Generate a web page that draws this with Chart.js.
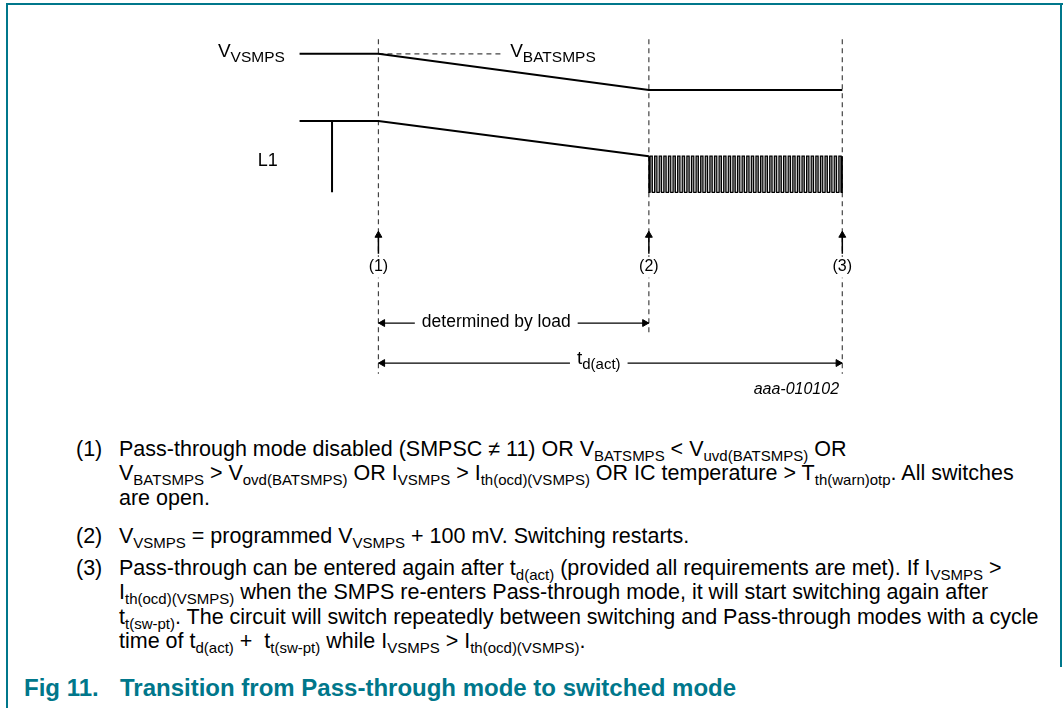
<!DOCTYPE html>
<html>
<head>
<meta charset="utf-8">
<script src="https://cdn.jsdelivr.net/npm/chart.js@4.4.0/dist/chart.umd.min.js"></script>
<style>
  body { margin: 0; background: #fff; font-family: "Liberation Sans", Arial, sans-serif; color: #000; }
  .edge { position: absolute; background: #00778b; }
  #chartBox { position: absolute; left: 0; top: 0; width: 1063px; height: 410px; }
  .note { position: absolute; left: 76px; font-size: 21.5px; line-height: 24.3px; white-space: nowrap; }
  .note .num { position: absolute; left: 0; top: 0; }
  .note .txt { position: absolute; left: 43px; top: 0; }
  sub { font-size: 15px; vertical-align: -5px; line-height: 0; }
  #caption { position: absolute; left: 24px; top: 674px; font-size: 24px; font-weight: bold; color: #00778b; white-space: nowrap; }
  #caption span { position: absolute; left: 96px; top: 0; }
</style>
</head>
<body>
<div class="edge" style="left:6px;top:3px;width:1057px;height:2px"></div>
<div class="edge" style="left:6px;top:3px;width:2px;height:705px"></div>
<div class="edge" style="left:1060px;top:3px;width:2px;height:664px"></div>

<div id="chartBox"><canvas id="timing" width="1063" height="410"></canvas></div>

<div class="note" style="top:437px"><div class="num">(1)</div><div class="txt">Pass-through mode disabled (SMPSC &ne; 11) OR V<sub>BATSMPS</sub> &lt; V<sub>uvd(BATSMPS)</sub> OR<br>V<sub>BATSMPS</sub> &gt; V<sub>ovd(BATSMPS)</sub> OR I<sub>VSMPS</sub> &gt; I<sub>th(ocd)(VSMPS)</sub> OR IC temperature &gt; T<sub>th(warn)otp</sub>. All switches<br>are open.</div></div>
<div class="note" style="top:524px"><div class="num">(2)</div><div class="txt">V<sub>VSMPS</sub> = programmed V<sub>VSMPS</sub> + 100 mV. Switching restarts.</div></div>
<div class="note" style="top:556px"><div class="num">(3)</div><div class="txt">Pass-through can be entered again after t<sub>d(act)</sub> (provided all requirements are met). If I<sub>VSMPS</sub> &gt;<br>I<sub>th(ocd)(VSMPS)</sub> when the SMPS re-enters Pass-through mode, it will start switching again after<br>t<sub>t(sw-pt)</sub>. The circuit will switch repeatedly between switching and Pass-through modes with a cycle<br>time of t<sub>d(act)</sub> +&nbsp; t<sub>t(sw-pt)</sub> while I<sub>VSMPS</sub> &gt; I<sub>th(ocd)(VSMPS)</sub>.</div></div>

<div id="caption">Fig 11.<span>Transition from Pass-through mode to switched mode</span></div>

<script>
// time axis: event (1) at 0, event (3) at 100
const eventTimes = [0, 58.3, 100];
const eventNames = ['(1)', '(2)', '(3)'];
const eventLineEnd = [3.2, 7.2, 3.2];

// V_VSMPS trace
const vvsmpsTimes = [-17, 0, 58.3, 100];
const vvsmpsLevels = [36, 36, 32.3, 32.3];
// V_BATSMPS reference (dashed)
const vbatTimes = [0, 27];
const vbatLevels = [36, 36];

// L1 trace
const l1Times = [-17, 0, 58.3];
const l1Levels = [29.1, 29.1, 25.5];
const l1DropTime = -10;
const l1Low = 21.8;

// switching burst after (2)
const switchStart = 58.3;
const switchEnd = 100;
const switchHigh = 25.5;
const switchLow = 21.8;
const switchPulses = 42;

const arrowTail = 15.5;
const arrowTip = 17.8;
const loadArrowLevel = 8.4;
const actArrowLevel = 4.3;
const dashTop = 37.5;

const xy = (ts, vs) => ts.map((t, i) => ({ x: t, y: vs[i] }));

const ink = '#000';
const dashInk = '#444';
const base = { showLine: true, pointRadius: 0, borderColor: ink, borderWidth: 2, fill: false, order: 1 };

const datasets = [];

// event guide lines
eventTimes.forEach((t, i) => {
  datasets.push(Object.assign({}, base, {
    data: [{ x: t, y: dashTop }, { x: t, y: eventLineEnd[i] }],
    borderColor: dashInk, borderWidth: 1.2, borderDash: [5, 4], order: 5
  }));
});

datasets.push(Object.assign({}, base, { data: xy(vvsmpsTimes, vvsmpsLevels) }));
datasets.push(Object.assign({}, base, { data: xy(vbatTimes, vbatLevels), borderColor: dashInk, borderWidth: 1.2, borderDash: [5, 4] }));
datasets.push(Object.assign({}, base, { data: xy(l1Times, l1Levels) }));
datasets.push(Object.assign({}, base, { data: [{ x: l1DropTime, y: l1Levels[0] }, { x: l1DropTime, y: l1Low }] }));

// square wave burst
const sw = [{ x: switchStart, y: switchHigh }, { x: switchStart, y: switchLow }];
const period = (switchEnd - switchStart) / switchPulses;
for (let k = 0; k < switchPulses; k++) {
  const a = switchStart + k * period + period * 0.25;
  const b = a + period * 0.5;
  sw.push({ x: a, y: switchLow }, { x: a, y: switchHigh }, { x: b, y: switchHigh }, { x: b, y: switchLow });
}
sw.push({ x: switchEnd, y: switchLow }, { x: switchEnd, y: switchHigh });
datasets.push(Object.assign({}, base, {
  data: sw, borderWidth: 1.2, fill: { value: switchLow }, backgroundColor: '#9a9a9a'
}));

// up arrows at events
const headR = 4;
eventTimes.forEach(t => {
  datasets.push(Object.assign({}, base, {
    data: [{ x: t, y: arrowTail }, { x: t, y: arrowTip - 0.4 }],
    borderWidth: 1.5, pointRadius: [0, headR], pointStyle: 'triangle',
    pointBackgroundColor: ink, pointBorderColor: ink, pointBorderWidth: 1
  }));
});

// horizontal double arrows
function hArrow(t0, t1, lvl) {
  const off = 0.9;
  return Object.assign({}, base, {
    data: [{ x: t0, y: lvl }, { x: t0 + off, y: lvl }, { x: t1 - off, y: lvl }, { x: t1, y: lvl }],
    borderWidth: 1.2, pointRadius: [0, headR, headR, 0], pointStyle: 'triangle',
    pointRotation: [0, 270, 90, 0],
    pointBackgroundColor: ink, pointBorderColor: ink, pointBorderWidth: 1
  });
}
datasets.push(hArrow(eventTimes[0], eventTimes[1], loadArrowLevel));
datasets.push(hArrow(eventTimes[0], eventTimes[2], actArrowLevel));

// labels with subscripts, placed in data coords
const labels = [
  { parts: [['V'], ['VSMPS', 1]], t: -34.6, v: 36.2, align: 'left', size: 19, sub: 15.5 },
  { parts: [['V'], ['BATSMPS', 1]], t: 28.4, v: 36.2, align: 'left', size: 19, sub: 15.5, bg: 7 },
  { parts: [['L1']], t: -26, v: 25.0, align: 'left', size: 18 },
  { parts: [['determined by load']], t: 25.4, v: loadArrowLevel + 0.1, align: 'center', size: 17.5, bg: 7 },
  { parts: [['t'], ['d(act)', 1]], t: 47.5, v: actArrowLevel + 0.4, align: 'center', size: 19, sub: 15, bg: 7 },
  { parts: [['aaa-010102']], t: 99.3, v: 1.6, align: 'right', size: 16, italic: true }
];
eventTimes.forEach((t, i) => labels.push({ parts: [[eventNames[i]]], t: t, v: 14.2, align: 'center', size: 16, bg: 1 }));

const textPlugin = {
  id: 'diagramText',
  afterDatasetsDraw(chart) {
    const ctx = chart.ctx;
    const xs = chart.scales.x, ys = chart.scales.y;
    ctx.save();
    ctx.textBaseline = 'middle';
    labels.forEach(l => {
      const fam = '"Liberation Sans", Arial, sans-serif';
      const style = l.italic ? 'italic ' : '';
      const subSize = l.sub || Math.round(l.size * 0.78);
      const fontOf = p => style + (p[1] ? subSize : l.size) + 'px ' + fam;
      let w = 0;
      const widths = l.parts.map(p => { ctx.font = fontOf(p); const m = ctx.measureText(p[0]).width; w += m; return m; });
      let x = xs.getPixelForValue(l.t);
      const y = ys.getPixelForValue(l.v);
      if (l.align === 'center') x -= w / 2;
      if (l.align === 'right') x -= w;
      if (l.bg) {
        ctx.fillStyle = '#fff';
        ctx.fillRect(x - l.bg, y - l.size * 0.6, w + 2 * l.bg, l.size * 1.3);
      }
      ctx.fillStyle = ink;
      l.parts.forEach((p, i) => {
        ctx.font = fontOf(p);
        ctx.fillText(p[0], x, p[1] ? y + 6 : y);
        x += widths[i];
      });
    });
    ctx.restore();
  }
};

new Chart(document.getElementById('timing'), {
  type: 'scatter',
  data: { datasets: datasets },
  options: {
    responsive: false,
    animation: false,
    layout: { padding: 0 },
    plugins: { legend: { display: false }, tooltip: { enabled: false } },
    elements: { line: { tension: 0 } },
    scales: {
      x: { type: 'linear', min: -80.5, max: 146.5, display: false },
      y: { type: 'linear', min: 0, max: 41, display: false }
    }
  },
  plugins: [textPlugin]
});
</script>
</body>
</html>
